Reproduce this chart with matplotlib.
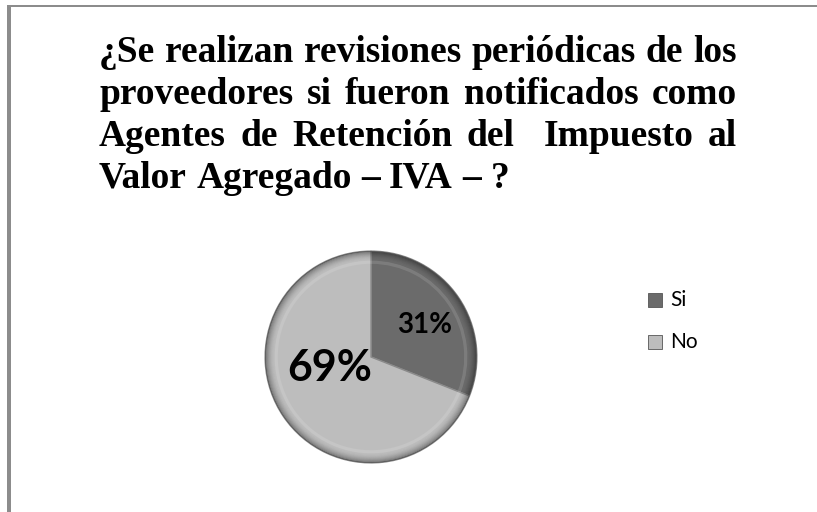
import numpy as np
import matplotlib.pyplot as plt
from matplotlib.patches import Wedge, Rectangle

# Data
labels = ['Si', 'No']
values = [31, 69]
colors = ['#6b6b6b', '#bdbdbd']
title_lines = [
    '¿Se realizan revisiones periódicas de los',
    'proveedores si fueron notificados como',
    'Agentes de Retención del  Impuesto al',
    'Valor Agregado – IVA – ?',
]

W, H = 817, 512
fig = plt.figure(figsize=(W / 100, H / 100), dpi=100)
fig.patch.set_facecolor('white')


def fx(x):
    return x / W


def fy(y):
    return 1 - y / H


# Frame (partially cut at the right and bottom)
fig.add_artist(Rectangle((fx(7), fy(7)), fx(W + 20) - fx(7), 2 / H,
                         transform=fig.transFigure, color='#8c8c8c', lw=0))
fig.add_artist(Rectangle((fx(7), fy(H + 10)), 4 / W, (H + 10 - 7) / H,
                         transform=fig.transFigure, color='#8c8c8c', lw=0))

# Justified title
fig.canvas.draw()
renderer = fig.canvas.get_renderer()
left, right = 99, 737
baseline0, step = 62, 42
font = dict(family='Liberation Serif', weight='bold', size=27)
for i, line in enumerate(title_lines):
    words = line.split(' ')
    y = fy(baseline0 + i * step)
    texts = [fig.text(0, y, w, va='baseline', ha='left', **font) for w in words]
    widths = [t.get_window_extent(renderer).width if w else 0
              for t, w in zip(texts, words)]
    space = fig.text(0, 0, 'a a', **font)
    sw = space.get_window_extent(renderer).width - \
        2 * fig.text(0, 0, 'a', **font).get_window_extent(renderer).width
    for t in fig.texts[-2:]:
        t.remove()
    if i < len(title_lines) - 1:
        gap = (right - left - sum(widths)) / (len(words) - 1)
    else:
        gap = sw
    x = left
    for t, w in zip(texts, widths):
        t.set_x(fx(x))
        x += w + gap

# Pie
cx, cy, r = 371, 357, 108
ax = fig.add_axes([fx(cx - r), fy(cy + r), 2 * r / W, 2 * r / H])
ax.pie(values, colors=colors, startangle=90, counterclock=False,
       radius=1, wedgeprops=dict(edgecolor='#8a8a8a', linewidth=1.0))

# Bevel-like shading on the rim
angles = np.cumsum([0] + values) / sum(values) * 360
n = 10
for k in range(len(values)):
    t1 = 90 - angles[k + 1]
    t2 = 90 - angles[k]
    for j in range(n):
        rr = 1.0 - j * 0.009
        ax.add_patch(Wedge((0, 0), rr, t1, t2, width=0.009,
                           facecolor='black', alpha=0.4 * (1 - j / n) ** 2,
                           lw=0))
    ax.add_patch(Wedge((0, 0), 0.91, t1, t2, width=0.03,
                       facecolor='white', alpha=0.12, lw=0))
ax.set_xlim(-1.02, 1.02)
ax.set_ylim(-1.02, 1.02)
ax.set_aspect('equal')
ax.axis('off')

# Percent labels
fig.text(fx(425), fy(325), '31%', ha='center', va='center',
         family='Lato', weight='bold', size=20)
fig.text(fx(330), fy(368), '69%', ha='center', va='center',
         family='Lato', weight='bold', size=31)

# Legend
for lab, col, yy in zip(labels, colors, [300, 342]):
    fig.add_artist(Rectangle((fx(648), fy(yy + 7)), 14 / W, 14 / H,
                             transform=fig.transFigure, facecolor=col,
                             edgecolor='#555555', lw=0.6))
    fig.text(fx(670), fy(yy), lab, ha='left', va='center',
             family='Lato', size=15)

fig.savefig('out.png', dpi=100)
